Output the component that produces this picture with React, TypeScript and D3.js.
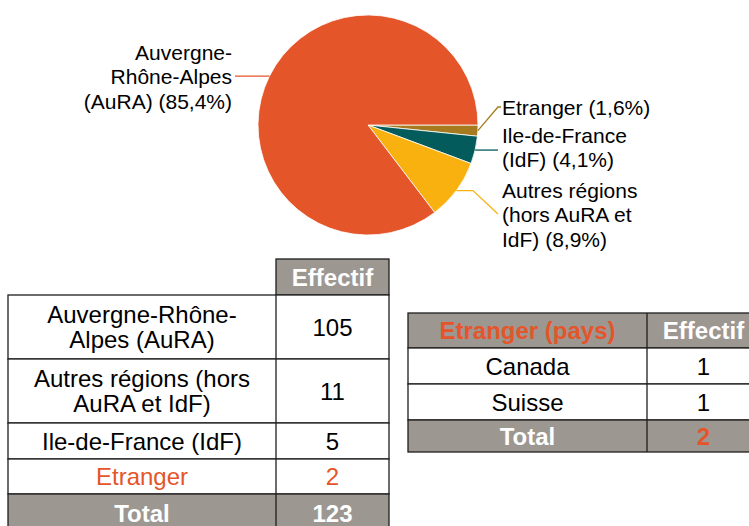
import React from "react";
import * as d3 from "d3";

// slices, clockwise from 3 o'clock
const regions = ["Etranger", "Ile-de-France (IdF)", "Autres régions (hors AuRA et IdF)", "Auvergne-Rhône-Alpes (AuRA)"];
const effectifs = [2, 5, 11, 105];
const sliceColors = ["#A67A1E", "#035B5C", "#F8B10F", "#E4552A"];
const pieLabels = [
  ["Etranger (1,6%)"],
  ["Ile-de-France", "(IdF) (4,1%)"],
  ["Autres régions", "(hors AuRA et", "IdF) (8,9%)"],
  ["Auvergne-", "Rhône-Alpes", "(AuRA) (85,4%)"],
];

// left table
const tableRows = [["Auvergne-Rhône-", "Alpes (AuRA)"], ["Autres régions (hors", "AuRA et IdF)"], ["Ile-de-France (IdF)"], ["Etranger"]];
const tableValues = [105, 11, 5, 2];
const total = 123;

// right table
const countries = ["Canada", "Suisse"];
const countryValues = [1, 1];
const countryTotal = 2;

const FONT = "'Liberation Sans', Arial, sans-serif";
const ORANGE = "#E4552A";
const GREY = "#9D9792";
const LINE = "#1e1e1e";

const App = () => {
  const width = 749;
  const height = 526;
  const cx = 368;
  const cy = 125;
  const radius = 110;

  const pie = d3
    .pie<number>()
    .sort(null)
    .value((d) => d)
    .startAngle(Math.PI / 2)
    .endAngle(Math.PI / 2 + 2 * Math.PI);
  const arcs = pie(effectifs);
  const arc = d3.arc<d3.PieArcDatum<number>>().innerRadius(0).outerRadius(radius);
  const rim = d3.arc<d3.PieArcDatum<number>>().innerRadius(radius).outerRadius(radius);

  // label placement: [x, first line y, anchor, leader path points after rim]
  const labelPos: { x: number; y: number; anchor: string; leader: (p: [number, number]) => [number, number][] }[] = [
    { x: 502, y: 107, anchor: "start", leader: (p) => [p, [498 - cx, 107 - cy], [501 - cx, 107 - cy]] },
    { x: 502, y: 135, anchor: "start", leader: (p) => [p, [498 - cx, p[1]]] },
    { x: 502, y: 190, anchor: "start", leader: (p) => [p, [473 - cx, p[1]], [498 - cx, 214 - cy]] },
    { x: 232, y: 52, anchor: "end", leader: (p) => [p, [235 - cx, p[1]]] },
  ];
  const line = d3.line();

  // left table geometry
  const lx = [8, 276, 389];
  const ly = [259, 295, 359, 423, 459, 494, 532];
  // right table geometry
  const rx = [408, 647, 760];
  const ry = [313, 348, 384, 420, 452];

  const cellText = (lines: string[], x: number, y0: number, y1: number, opts: any = {}) => {
    const mid = (y0 + y1) / 2;
    const lh = 25;
    return lines.map((t, i) => (
      <text
        key={i}
        x={x}
        y={mid + (i - (lines.length - 1) / 2) * lh}
        textAnchor="middle"
        dominantBaseline="central"
        fontFamily={FONT}
        fontSize={opts.size || 24}
        fontWeight={opts.bold ? "bold" : "normal"}
        fill={opts.fill || "#000"}
      >
        {t}
      </text>
    ));
  };

  return (
    <svg width={width} height={height} style={{ position: "absolute", left: 0, top: 0, background: "#fff" }}>
      {/* pie */}
      <g transform={`translate(${cx},${cy})`}>
        {arcs.map((a, i) => (
          <path key={regions[i]} d={arc(a) || ""} fill={sliceColors[i]} stroke="#fff" strokeWidth={0.8} />
        ))}
        {arcs.map((a, i) => {
          const p = rim.centroid(a) as [number, number];
          return (
            <path
              key={"l" + i}
              d={line(labelPos[i].leader(p)) || ""}
              fill="none"
              stroke={sliceColors[i]}
              strokeWidth={1.3}
            />
          );
        })}
      </g>
      {pieLabels.map((lines, i) =>
        lines.map((t, j) => (
          <text
            key={i + "-" + j}
            x={labelPos[i].x}
            y={labelPos[i].y + j * 24.5}
            textAnchor={labelPos[i].anchor}
            dominantBaseline="central"
            fontFamily={FONT}
            fontSize={21}
            fill="#000"
          >
            {t}
          </text>
        ))
      )}

      {/* left table */}
      <rect x={lx[1]} y={ly[0]} width={lx[2] - lx[1]} height={ly[1] - ly[0]} fill={GREY} stroke={LINE} strokeWidth={1.3} />
      {cellText(["Effectif"], (lx[1] + lx[2]) / 2, ly[0], ly[1], { bold: true, fill: "#fff" })}
      {tableRows.map((lines, i) => {
        const y0 = ly[i + 1];
        const y1 = ly[i + 2];
        const isEtr = i === tableRows.length - 1;
        return (
          <g key={"r" + i}>
            <rect x={lx[0]} y={y0} width={lx[2] - lx[0]} height={y1 - y0} fill="#fff" stroke={LINE} strokeWidth={1.3} />
            <line x1={lx[1]} x2={lx[1]} y1={y0} y2={y1} stroke={LINE} strokeWidth={1.3} />
            {cellText(lines, (lx[0] + lx[1]) / 2, y0, y1, { fill: isEtr ? ORANGE : "#000" })}
            {cellText([String(tableValues[i])], (lx[1] + lx[2]) / 2, y0, y1, { fill: isEtr ? ORANGE : "#000" })}
          </g>
        );
      })}
      <rect x={lx[0]} y={ly[5]} width={lx[2] - lx[0]} height={ly[6] - ly[5]} fill={GREY} stroke={LINE} strokeWidth={1.3} />
      <line x1={lx[1]} x2={lx[1]} y1={ly[5]} y2={ly[6]} stroke={LINE} strokeWidth={1.3} />
      {cellText(["Total"], (lx[0] + lx[1]) / 2, ly[5], ly[6], { bold: true, fill: "#fff" })}
      {cellText([String(total)], (lx[1] + lx[2]) / 2, ly[5], ly[6], { bold: true, fill: "#fff" })}

      {/* right table */}
      <rect x={rx[0]} y={ry[0]} width={rx[2] - rx[0]} height={ry[1] - ry[0]} fill={GREY} stroke={LINE} strokeWidth={1.3} />
      <line x1={rx[1]} x2={rx[1]} y1={ry[0]} y2={ry[1]} stroke={LINE} strokeWidth={1.3} />
      {cellText(["Etranger (pays)"], (rx[0] + rx[1]) / 2, ry[0], ry[1], { bold: true, fill: ORANGE })}
      {cellText(["Effectif"], (rx[1] + rx[2]) / 2, ry[0], ry[1], { bold: true, fill: "#fff" })}
      {countries.map((c, i) => {
        const y0 = ry[i + 1];
        const y1 = ry[i + 2];
        return (
          <g key={c}>
            <rect x={rx[0]} y={y0} width={rx[2] - rx[0]} height={y1 - y0} fill="#fff" stroke={LINE} strokeWidth={1.3} />
            <line x1={rx[1]} x2={rx[1]} y1={y0} y2={y1} stroke={LINE} strokeWidth={1.3} />
            {cellText([c], (rx[0] + rx[1]) / 2, y0, y1)}
            {cellText([String(countryValues[i])], (rx[1] + rx[2]) / 2, y0, y1)}
          </g>
        );
      })}
      <rect x={rx[0]} y={ry[3]} width={rx[2] - rx[0]} height={ry[4] - ry[3]} fill={GREY} stroke={LINE} strokeWidth={1.3} />
      <line x1={rx[1]} x2={rx[1]} y1={ry[3]} y2={ry[4]} stroke={LINE} strokeWidth={1.3} />
      {cellText(["Total"], (rx[0] + rx[1]) / 2, ry[3], ry[4], { bold: true, fill: "#fff" })}
      {cellText([String(countryTotal)], (rx[1] + rx[2]) / 2, ry[3], ry[4], { bold: true, fill: ORANGE })}
    </svg>
  );
};

export default App;
